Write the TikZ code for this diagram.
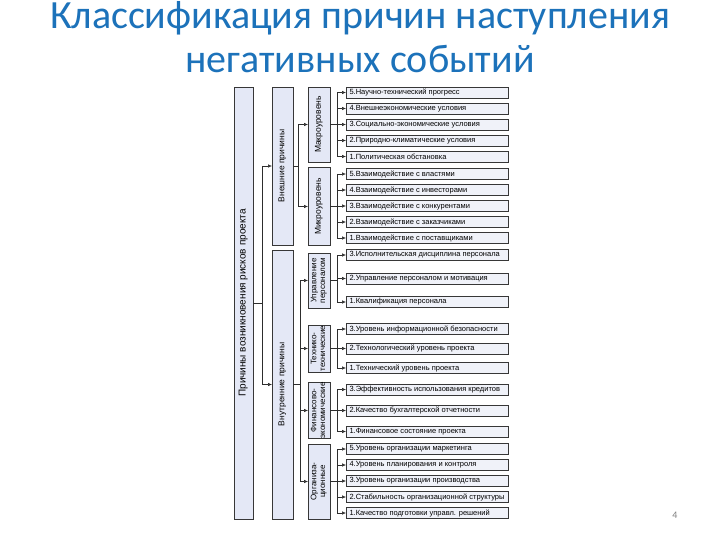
\documentclass[tikz,border=0pt]{standalone}
\usepackage{fontspec}
\setmainfont{Liberation Sans}
\newfontfamily\titlefont{Carlito}
\usetikzlibrary{arrows.meta,shadows}
\definecolor{titleblue}{RGB}{28,114,186}
\definecolor{boxfill}{RGB}{228,232,246}
\definecolor{itemfill}{RGB}{240,242,249}
\definecolor{boxline}{RGB}{55,55,55}
\definecolor{conn}{RGB}{45,45,45}
\newcommand{\itx}[1]{\makebox[155pt][l]{#1}}
\newcommand{\vlab}[1]{\rotatebox{90}{\begin{tabular}{@{}c@{}}#1\end{tabular}}}
\begin{document}
\begin{tikzpicture}[x=1pt,y=-1pt,
  box/.style={draw=boxline, line width=0.6pt, fill=boxfill, inner sep=0pt, outer sep=0pt,
    drop shadow={shadow xshift=0.9pt,shadow yshift=-0.9pt,fill=black!60,opacity=1}},
  catbox/.style={box, minimum width=22pt, font=\fontsize{8.5}{9}\selectfont},
  cat2box/.style={box, minimum width=22pt, font=\fontsize{8}{8.6}\selectfont},
  item/.style={box, fill=itemfill, minimum height=11pt, minimum width=162pt, inner xsep=3.5pt,
    font=\fontsize{7.5}{8}\selectfont},
  link/.style={draw=conn, line width=0.6pt},
  arr/.style={link, -{Latex[length=4pt,width=3.6pt]}},
  ttl/.style={font=\titlefont\fontsize{40}{44}\selectfont, text=titleblue, anchor=base, inner sep=0pt},
]
\useasboundingbox (0,0) rectangle (720,540);
\fill[white] (0,0) rectangle (720,540);

% title
\node[ttl] (title1) at (360,29) {Классификация причин наступления};
\node[ttl] (title2) at (360,73) {негативных событий};

% root and level 1
\node[box, minimum width=19pt, minimum height=432pt, font=\fontsize{10}{11}\selectfont] (root) at (243.5,303) {\vlab{Причины возникновения рисков проекта}};
\node[box, minimum width=21pt, minimum height=158pt, font=\fontsize{8.5}{9}\selectfont] (ext) at (282.5,166) {\vlab{Внешние причины}};
\node[box, minimum width=21pt, minimum height=269pt, font=\fontsize{8.5}{9}\selectfont] (int) at (282.5,384.5) {\vlab{Внутренние причины}};

% categories
\node[catbox, minimum height=75pt] (macro) at (319,124.5) {\vlab{Макроуровень}};
\node[catbox, minimum height=78pt] (micro) at (319,206.5) {\vlab{Микроуровень}};
\node[cat2box, minimum height=55pt] (upr) at (319,280.5) {\vlab{Управление\\персоналом}};
\node[cat2box, minimum height=47pt] (tech) at (319,348.5) {\vlab{Технико-\\технические}};
\node[cat2box, minimum height=55pt] (fin) at (319,410.5) {\vlab{Финансово-\\экономические}};
\node[cat2box, minimum height=75pt] (org) at (319,481.5) {\vlab{Организа-\\ционные}};

% items: macro
\node[item] (ma5) at (427,92.5) {\itx{5.Научно-технический прогресс}};
\node[item] (ma4) at (427,108.5) {\itx{4.Внешнеэкономические условия}};
\node[item] (ma3) at (427,124.5) {\itx{3.Социально-экономические условия}};
\node[item] (ma2) at (427,140.5) {\itx{2.Природно-климатические условия}};
\node[item] (ma1) at (427,156.5) {\itx{1.Политическая обстановка}};
% items: micro
\node[item] (mi5) at (427,174) {\itx{5.Взаимодействие с властями}};
\node[item] (mi4) at (427,190) {\itx{4.Взаимодействие с инвесторами}};
\node[item] (mi3) at (427,206) {\itx{3.Взаимодействие с конкурентами}};
\node[item] (mi2) at (427,222) {\itx{2.Взаимодействие с заказчиками}};
\node[item] (mi1) at (427,238) {\itx{1.Взаимодействие с поставщиками}};
% items: personnel
\node[item] (up3) at (427,255) {\itx{3.Исполнительская дисциплина персонала}};
\node[item] (up2) at (427,278.5) {\itx{2.Управление персоналом и мотивация}};
\node[item] (up1) at (427,302) {\itx{1.Квалификация персонала}};
% items: technical
\node[item] (te3) at (427,329) {\itx{3.Уровень информационной безопасности}};
\node[item] (te2) at (427,348.5) {\itx{2.Технологический уровень проекта}};
\node[item] (te1) at (427,368) {\itx{1.Технический уровень проекта}};
% items: financial
\node[item] (fi3) at (427,389.5) {\itx{3.Эффективность использования кредитов}};
\node[item] (fi2) at (427,410.5) {\itx{2.Качество бухгалтерской отчетности}};
\node[item] (fi1) at (427,431.5) {\itx{1.Финансовое состояние проекта}};
% items: organisational
\node[item] (or5) at (427,449) {\itx{5.Уровень организации маркетинга}};
\node[item] (or4) at (427,465) {\itx{4.Уровень планирования и контроля}};
\node[item] (or3) at (427,481) {\itx{3.Уровень организации производства}};
\node[item] (or2) at (427,497) {\itx{2.Стабильность организационной структуры}};
\node[item] (or1) at (427,513) {\itx{1.Качество подготовки управл. решений}};

% bus x positions
\coordinate (rb) at (262,0);
\coordinate (eb) at (298,0);
\coordinate (ib) at (300,0);
\coordinate (cb) at (337,0);

% root -> level 1
\draw[link] (root.east) -- (root.east -| rb);
\draw[link] (ext.west -| rb) -- (int.west -| rb);
\draw[arr] (ext.west -| rb) -- (ext.west);
\draw[arr] (int.west -| rb) -- (int.west);

% external -> categories
\draw[link] (ext.east) -- (ext.east -| eb);
\draw[link] (macro.west -| eb) -- (micro.west -| eb);
\draw[arr] (macro.west -| eb) -- (macro.west);
\draw[arr] (micro.west -| eb) -- (micro.west);

% internal -> categories
\draw[link] (int.east) -- (int.east -| ib);
\draw[link] (upr.west -| ib) -- (org.west -| ib);
\foreach \c in {upr,tech,fin,org} \draw[arr] (\c.west -| ib) -- (\c.west);

% categories -> items
\draw[link] (macro.east) -- (macro.east -| cb);
\draw[link] (ma5.west -| cb) -- (ma1.west -| cb);
\foreach \i in {1,...,5} \draw[arr] (ma\i.west -| cb) -- (ma\i.west);

\draw[link] (micro.east) -- (micro.east -| cb);
\draw[link] (mi5.west -| cb) -- (mi1.west -| cb);
\foreach \i in {1,...,5} \draw[arr] (mi\i.west -| cb) -- (mi\i.west);

\draw[link] (upr.east) -- (upr.east -| cb);
\draw[link] (up3.west -| cb) -- (up1.west -| cb);
\foreach \i in {1,2,3} \draw[arr] (up\i.west -| cb) -- (up\i.west);

\draw[link] (tech.east) -- (tech.east -| cb);
\draw[link] (te3.west -| cb) -- (te1.west -| cb);
\foreach \i in {1,2,3} \draw[arr] (te\i.west -| cb) -- (te\i.west);

\draw[link] (fin.east) -- (fin.east -| cb);
\draw[link] (fi3.west -| cb) -- (fi1.west -| cb);
\foreach \i in {1,2,3} \draw[arr] (fi\i.west -| cb) -- (fi\i.west);

\draw[link] (org.east) -- (org.east -| cb);
\draw[link] (or5.west -| cb) -- (or1.west -| cb);
\foreach \i in {1,...,5} \draw[arr] (or\i.west -| cb) -- (or\i.west);

% page number
\node[font=\titlefont\fontsize{10}{12}\selectfont, text=gray] (pnum) at (675,515) {4};
\end{tikzpicture}
\end{document}
